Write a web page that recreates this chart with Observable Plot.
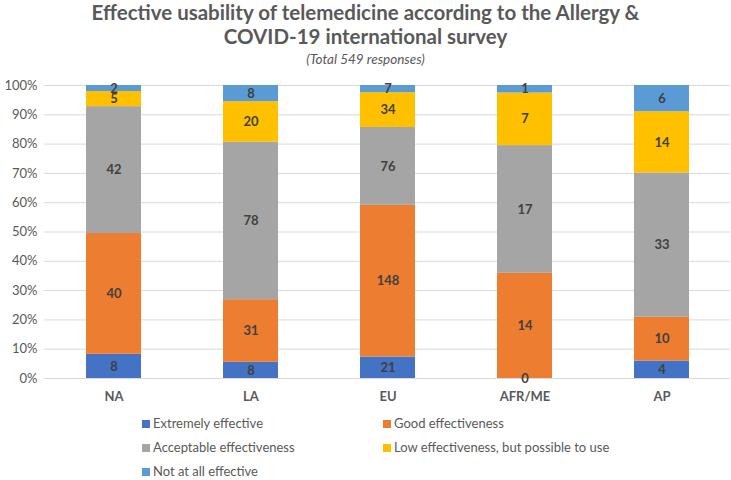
<!DOCTYPE html>
<html><head><meta charset="utf-8">
<script src="https://cdn.jsdelivr.net/npm/d3@7"></script>
<script src="https://cdn.jsdelivr.net/npm/@observablehq/plot@0.6"></script>
<style>
body{margin:0;background:#fff;font-family:"Lato",sans-serif;}
#wrap{width:731px;height:480px;position:relative;overflow:hidden;}
#title{position:absolute;top:0px;left:0;width:731px;text-align:center;font-weight:bold;font-size:20.5px;line-height:24px;color:#595959;}
#sub{position:absolute;top:51px;left:0;width:731px;text-align:center;font-style:italic;font-size:13.5px;color:#595959;}
#chart{position:absolute;top:70px;left:0;}
#legend{position:absolute;top:414px;left:142px;font-size:13px;color:#595959;}
.li{position:absolute;white-space:nowrap;line-height:18px;}
.sw{display:inline-block;width:8px;height:8px;margin-right:3px;vertical-align:0px;}
</style></head><body>
<div id="wrap">
<div id="title">Effective usability of telemedicine according to the Allergy &amp;<br>COVID-19 international survey</div>
<div id="sub">(Total 549 responses)</div>
<div id="chart"></div>
<div id="legend"></div>
</div>
<script>
const regions = ["NA","LA","EU","AFR/ME","AP"];
const categories = ["Extremely effective","Good effectiveness","Acceptable effectiveness","Low effectiveness, but possible to use","Not at all effective"];
const colors = ["#4472C4","#ED7D31","#A5A5A5","#FFC000","#5B9BD5"];
const extremely = [8,8,21,0,4];
const good = [40,31,148,14,10];
const acceptable = [42,78,76,17,33];
const low = [5,20,34,7,14];
const notAtAll = [2,8,7,1,6];
const series = [extremely, good, acceptable, low, notAtAll];
const yTicks = [0,0.1,0.2,0.3,0.4,0.5,0.6,0.7,0.8,0.9,1];

const data = [];
regions.forEach((r,i)=>{
  categories.forEach((c,j)=>{ data.push({region:r, cat:c, value:series[j][i]}); });
});

const plot = Plot.plot({
  width:731, height:338,
  marginLeft:44, marginRight:1, marginTop:15, marginBottom:30,
  style:{fontFamily:'"Lato",sans-serif', fontSize:"13px", color:"#595959"},
  x:{domain:regions, label:null, paddingInner:0.6, paddingOuter:0.3, tickSize:0},
  y:{domain:[0,1], label:null, ticks:yTicks, tickFormat:d3.format(".0%"), tickSize:0, tickPadding:7},
  color:{domain:categories, range:colors},
  marks:[
    Plot.ruleY(yTicks.slice(1), {stroke:"#d9d9d9", strokeWidth:1}),
    Plot.barY(data, Plot.stackY({offset:"normalize", order:null, x:"region", y:"value", z:"cat", fill:"cat"})),
    Plot.ruleY([0], {stroke:"#d9d9d9", strokeWidth:1}),
    Plot.text(data, Plot.stackY({offset:"normalize", order:null, x:"region", y:"value", z:"cat", text:"value", fill:"#404040", fontWeight:"bold", fontSize:13})),
    Plot.axisX({tickSize:0, tickPadding:13, fontWeight:"bold", fontSize:13}),
  ]
});
document.getElementById("chart").appendChild(plot);

const leg = document.getElementById("legend");
const pos = [[0,0],[241,0],[0,24],[241,24],[0,48]];
categories.forEach((c,j)=>{
  const d = document.createElement("div");
  d.className="li";
  d.style.left = pos[j][0]+"px"; d.style.top = pos[j][1]+"px";
  d.innerHTML = `<span class="sw" style="background:${colors[j]}"></span>${c}`;
  leg.appendChild(d);
});
</script>
</body></html>
